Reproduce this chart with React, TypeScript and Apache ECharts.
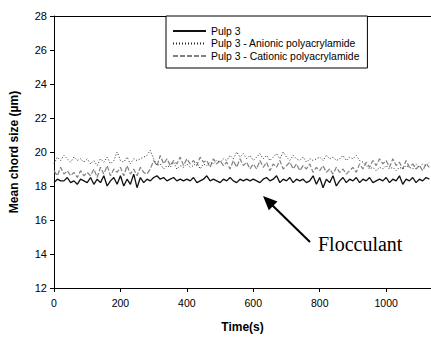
import React, { useEffect, useRef } from "react";
import * as echarts from "echarts";

const times: number[] = [];
for (let t = 0; t <= 1130; t += 10) times.push(t);

const pulp3: number[] = [
  18.2, 18.4, 18.3, 18.3, 18.5, 18.2, 18.3, 18.1, 18.4, 18.3,
  18.2, 18.5, 18.1, 18.4, 18.2, 18.6, 18.0, 18.3, 18.5, 18.1,
  18.6, 18.0, 18.4, 18.1, 18.7, 17.9, 18.5, 18.2, 18.4, 18.3,
  18.5, 18.6, 18.4, 18.5, 18.3, 18.4, 18.5, 18.3, 18.4, 18.3,
  18.4, 18.3, 18.5, 18.2, 18.3, 18.4, 18.6, 18.3, 18.4, 18.3,
  18.2, 18.4, 18.3, 18.5, 18.3, 18.2, 18.4, 18.3, 18.4, 18.3,
  18.4, 18.3, 18.2, 18.4, 18.5, 18.3, 18.4, 18.6, 18.2, 18.4,
  18.3, 18.5, 18.2, 18.4, 18.3, 18.4, 18.2, 18.3, 18.6, 18.1,
  18.5, 17.9, 18.4, 18.2, 18.6, 18.0, 18.3, 18.5, 18.2, 18.4,
  18.3, 18.5, 18.2, 18.4, 18.3, 18.5, 18.2, 18.3, 18.4, 18.3,
  18.5, 18.2, 18.4, 18.3, 18.6, 18.1, 18.4, 18.3, 18.5, 18.2,
  18.4, 18.3, 18.5, 18.4,
];

const anionic: number[] = [
  19.3, 19.7, 19.5, 19.8, 19.6, 19.4, 19.7, 19.5, 19.6, 19.4,
  19.6, 19.3, 19.5, 19.2, 19.6, 19.4, 19.7, 19.3, 19.5, 20.0,
  19.5, 19.4, 19.7, 19.3, 19.6, 19.5, 19.6, 19.7, 19.8, 20.1,
  19.6, 19.2, 19.3, 19.0, 19.2, 19.1, 19.4, 19.0, 19.2, 19.1,
  19.3, 19.1, 19.2, 19.4, 19.0, 19.3, 19.2, 19.4, 19.3, 19.5,
  19.4, 19.6, 19.5, 19.8, 19.6, 20.0, 19.7, 19.9, 19.6, 19.8,
  19.5, 19.7, 19.9, 19.6, 19.8, 19.5, 19.7, 19.9, 19.6, 20.0,
  19.7, 19.5, 19.8, 19.6, 19.5, 19.7, 19.4, 19.6, 19.5, 19.6,
  19.7, 19.5, 19.8, 19.6, 19.7, 19.5, 19.6, 19.8, 19.5, 19.7,
  19.6, 19.8, 19.5, 19.4, 19.2, 19.0, 19.1, 18.9, 19.1, 19.0,
  19.2, 19.0, 19.1, 18.9, 19.1, 19.0, 19.2, 19.1, 19.0, 19.3,
  19.1, 19.3, 19.2, 19.4,
];

const cationic: number[] = [
  18.9, 18.6, 19.1, 18.7, 18.9, 18.6, 18.8, 18.5, 18.9, 18.6,
  18.8, 18.6, 19.0, 18.5, 19.1, 18.7, 19.2, 18.6, 19.0, 18.8,
  19.1, 18.6, 19.2, 18.7, 19.0, 18.6, 19.1, 18.8, 18.7, 19.0,
  19.5, 19.2, 19.8, 19.3, 19.6, 19.2, 19.5, 19.3, 19.7, 19.2,
  19.6, 19.3, 19.5, 19.2, 19.7, 19.4, 19.5, 19.1, 19.6, 19.3,
  19.5, 19.2, 19.4, 19.0, 19.5, 19.1, 19.6, 19.2, 19.4, 19.0,
  19.3, 19.0, 19.5, 19.1, 19.4, 18.9, 19.3, 19.1, 19.5, 19.0,
  19.2, 19.4, 19.0, 19.3, 18.9, 19.2, 19.0, 19.3, 18.8, 19.1,
  18.9, 19.2, 18.8, 19.0, 18.7, 19.1, 18.8, 19.0, 18.7, 18.9,
  19.1, 18.8, 19.3, 19.0, 19.4, 19.1, 19.5, 19.2, 19.6, 19.3,
  19.5, 19.1, 19.6, 19.2, 19.4, 19.0, 19.5, 19.1, 19.3, 19.0,
  19.2, 18.9, 19.3, 19.1,
];

const seriesNames = [
  "Pulp 3",
  "Pulp 3 - Anionic polyacrylamide",
  "Pulp 3 - Cationic polyacrylamide",
];

const FONT = "Liberation Sans, Arial, sans-serif";

export default function App() {
  const ref = useRef<HTMLDivElement>(null);
  useEffect(() => {
    if (!ref.current) return;
    const chart = echarts.init(ref.current, null, { renderer: "svg" });
    const zip = (v: number[]) => v.map((y, i) => [times[i], y]);
    chart.setOption({
      animation: false,
      backgroundColor: "#fff",
      grid: { left: 54, top: 16, right: 0, bottom: 50 },
      legend: {
        orient: "vertical",
        left: 166,
        top: 16,
        itemWidth: 33,
        itemHeight: 10,
        itemGap: 2.5,
        padding: [10, 8, 7, 6],
        borderColor: "#000",
        borderWidth: 1,
        borderRadius: 0,
        backgroundColor: "#fff",
        itemStyle: { opacity: 0 },
        textStyle: { fontFamily: FONT, fontSize: 10.4, color: "#000" },
        data: seriesNames,
      },
      xAxis: [
        {
          type: "value",
          min: 0,
          max: 1135,
          interval: 200,
          name: "Time(s)",
          nameLocation: "middle",
          nameGap: 33,
          nameTextStyle: { fontFamily: FONT, fontSize: 12, fontWeight: "bold", color: "#000" },
          axisLine: { show: true, lineStyle: { color: "#000", width: 1 } },
          axisTick: { show: true, length: 4, lineStyle: { color: "#000" } },
          axisLabel: {
            fontFamily: FONT,
            fontSize: 10.5,
            color: "#000",
            margin: 9,
            showMaxLabel: false,
            formatter: (v: number) => String(v),
          },
          splitLine: { show: false },
        },
        {
          type: "value",
          position: "top",
          min: 0,
          max: 1135,
          axisLine: { show: true, lineStyle: { color: "#000", width: 1 } },
          axisTick: { show: false },
          axisLabel: { show: false },
          splitLine: { show: false },
        },
      ],
      yAxis: {
        type: "value",
        min: 12,
        max: 28,
        interval: 2,
        name: "Mean chord size (µm)",
        nameLocation: "middle",
        nameGap: 34,
        nameTextStyle: { fontFamily: FONT, fontSize: 12, fontWeight: "bold", color: "#000" },
        axisLine: { show: true, lineStyle: { color: "#000", width: 1 } },
        axisTick: { show: true, length: 4, lineStyle: { color: "#000" } },
        axisLabel: { fontFamily: FONT, fontSize: 11, color: "#000", margin: 7 },
        splitLine: { show: false },
      },
      series: [
        {
          name: seriesNames[0],
          type: "line",
          data: zip(pulp3),
          symbol: "none",
          lineStyle: { color: "#111", width: 1.3, type: "solid" },
          itemStyle: { color: "#111" },
          z: 4,
        },
        {
          name: seriesNames[1],
          type: "line",
          data: zip(anionic),
          symbol: "none",
          lineStyle: { color: "#222", width: 1, type: [1, 2] },
          itemStyle: { color: "#222" },
          z: 3,
        },
        {
          name: seriesNames[2],
          type: "line",
          data: zip(cationic),
          symbol: "none",
          lineStyle: { color: "#808080", width: 1.2, type: [5, 2] },
          itemStyle: { color: "#808080" },
          z: 2,
        },
      ],
      graphic: [
        {
          type: "line",
          shape: { x1: 310, y1: 242, x2: 272, y2: 205 },
          style: { stroke: "#000", lineWidth: 2 },
        },
        {
          type: "polygon",
          shape: { points: [[263, 196], [277.5, 201.5], [268.8, 210.3]] },
          style: { fill: "#000" },
        },
        {
          type: "text",
          left: 318,
          top: 234,
          style: {
            text: "Flocculant",
            font: "20px 'Liberation Serif', 'Times New Roman', serif",
            fill: "#000",
          },
        },
      ],
    });
    return () => chart.dispose();
  }, []);
  return (
    <div
      ref={ref}
      style={{ position: "fixed", left: 0, top: 0, width: 431, height: 338 }}
    />
  );
}
